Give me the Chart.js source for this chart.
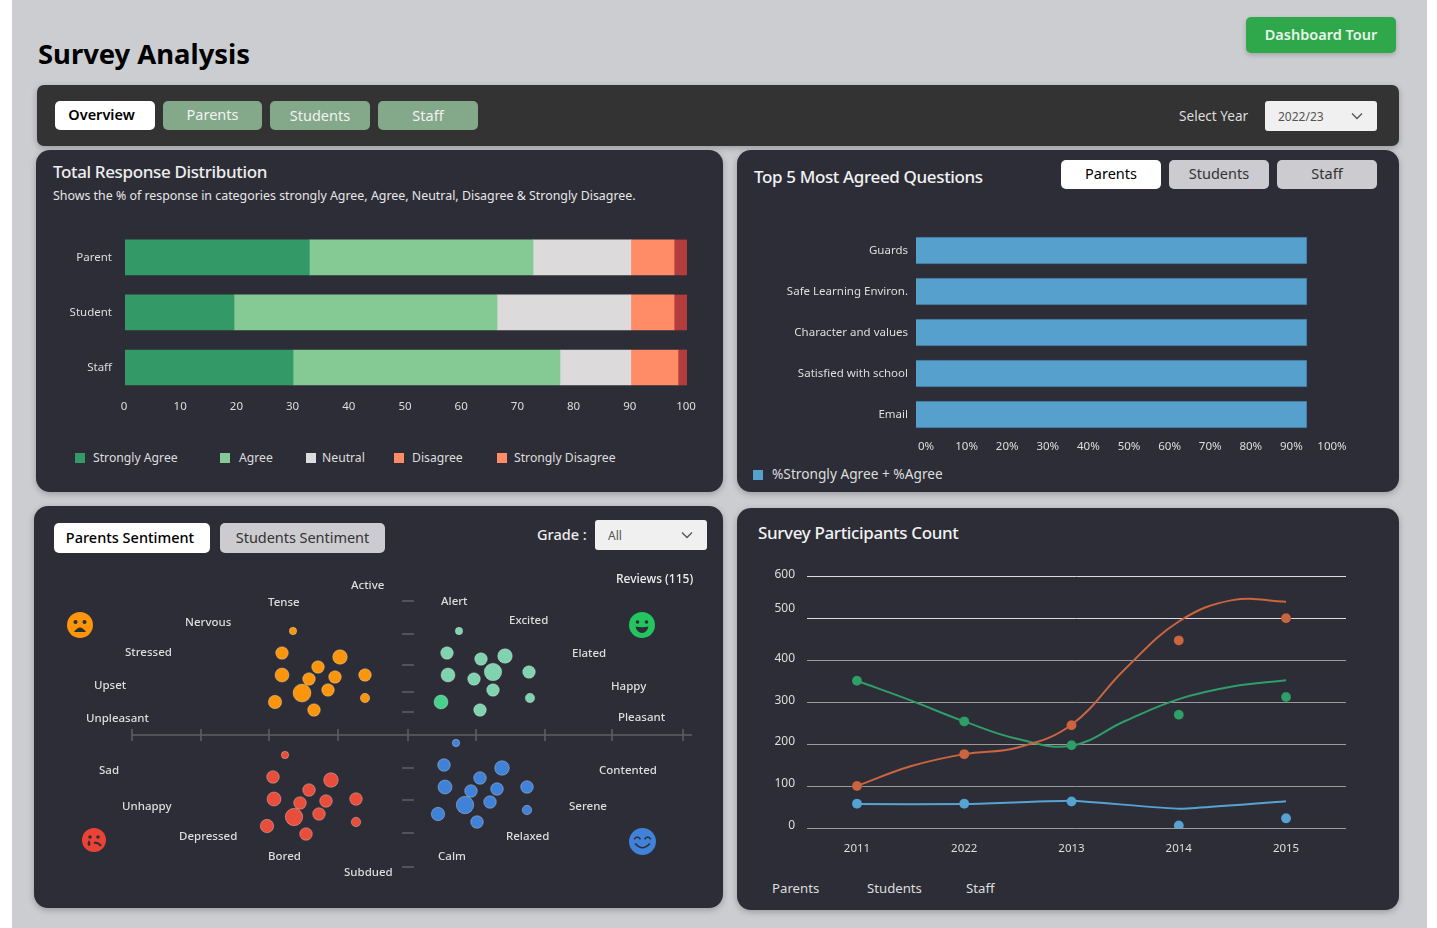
<!DOCTYPE html>
<html>
<head>
<meta charset="utf-8">
<title>Survey Analysis</title>
<script src="https://cdn.jsdelivr.net/npm/chart.js"></script>
<style>
  html, body { margin: 0; padding: 0; background: #fff; overflow: hidden; }
  body { width: 1437px; height: 928px; position: relative; font-family: "Noto Sans", sans-serif; }
  .page { position: absolute; left: 12px; top: 0; width: 1415px; height: 928px; background: #cccdd1; }
  .panel { position: absolute; background: #2d2d37; border-radius: 14px; box-shadow: 0 2px 6px rgba(0,0,0,.25); }
  .txt { position: absolute; transform: translateY(-50%); white-space: nowrap; color: #e6e6e6; }
  .btn { position: absolute; display: flex; align-items: center; justify-content: center; border-radius: 5px; font-size: 14.5px; box-sizing: border-box; padding-bottom: 3px; }
  .white { background: #fff; color: #000; }
  .sage { background: #84a88a; color: #f2f2f2; }
  .grey { background: #ccccd0; color: #333; }
  .select { position: absolute; background: #f0f0f0; border-radius: 3px; color: #555; font-size: 12px; display: flex; align-items: center; box-sizing: border-box; padding-left: 13px; }
  .select svg { position: absolute; right: 14px; top: 50%; margin-top: -4px; }
  canvas { position: absolute; }
  .swatch { position: absolute; width: 10px; height: 10px; }
  .senti { font-size: 11.5px; font-weight: 500; color: #dedede; margin-top: -1px; }
  .face { position: absolute; }
  .head { font-size: 17px; font-weight: 500; letter-spacing: -0.36px; color: #f2f2f2; }
</style>
</head>
<body>
<div class="page"></div>

<div class="txt" style="left:38px;top:53px;font-size:27.4px;font-weight:700;color:#000">Survey Analysis</div>
<div class="btn" style="left:1246px;top:17px;width:150px;height:36px;background:#2ea84a;color:#e6f5e8;font-size:14.5px;font-weight:600;box-shadow:0 2px 5px rgba(0,0,0,.2)">Dashboard Tour</div>

<div class="panel" style="left:37px;top:85px;width:1362px;height:61px;background:#333;border-radius:7px"></div>
<div class="btn white" style="left:55px;top:101px;width:100px;height:29px;font-weight:600;padding-right:7px">Overview</div>
<div class="btn sage" style="left:163px;top:101px;width:99px;height:29px">Parents</div>
<div class="btn sage" style="left:270px;top:101px;width:100px;height:29px;padding-bottom:1px">Students</div>
<div class="btn sage" style="left:378px;top:101px;width:100px;height:29px;padding-bottom:1px">Staff</div>
<div class="txt" style="left:1179px;top:115px;font-size:13.6px;color:#ddd">Select Year</div>
<div class="select" style="left:1265px;top:101px;width:112px;height:30px">2022/23<svg width="12" height="8"><path d="M1 1.5 L6 6.5 L11 1.5" fill="none" stroke="#555" stroke-width="1.3"/></svg></div>

<div class="panel" style="left:36px;top:150px;width:687px;height:342px"></div>
<div class="txt head" style="left:53px;top:171px;color:#eee">Total Response Distribution</div>
<div class="txt" style="left:53px;top:195px;font-size:12.4px;color:#e6e6e6">Shows the % of response in categories strongly Agree, Agree, Neutral, Disagree &amp; Strongly Disagree.</div>
<canvas id="responseChart" width="687" height="230" style="left:36px;top:210px"></canvas>
<div id="responseLegend"></div>

<div class="panel" style="left:737px;top:150px;width:662px;height:342px"></div>
<div class="txt head" style="left:754px;top:176px">Top 5 Most Agreed Questions</div>
<div class="btn white" style="left:1061px;top:160px;width:100px;height:29px">Parents</div>
<div class="btn grey" style="left:1169px;top:160px;width:100px;height:29px">Students</div>
<div class="btn grey" style="left:1277px;top:160px;width:100px;height:29px">Staff</div>
<canvas id="agreedChart" width="662" height="245" style="left:737px;top:215px"></canvas>
<div class="swatch" style="left:753px;top:470px;background:#55a0cc"></div>
<div class="txt" style="left:772px;top:473px;font-size:13.7px;color:#ddd">%Strongly Agree + %Agree</div>

<div class="panel" style="left:34px;top:506px;width:689px;height:402px"></div>
<div class="btn white" style="left:54px;top:523px;width:156px;height:30px;font-weight:500;padding-right:4px">Parents Sentiment</div>
<div class="btn grey" style="left:220px;top:523px;width:165px;height:30px;letter-spacing:-0.05px">Students Sentiment</div>
<div class="txt" style="left:537px;top:534px;font-size:14.5px;font-weight:500;color:#eee">Grade :</div>
<div class="select" style="left:595px;top:520px;width:112px;height:30px">All<svg width="12" height="8"><path d="M1 1.5 L6 6.5 L11 1.5" fill="none" stroke="#555" stroke-width="1.3"/></svg></div>
<canvas id="sentimentChart" width="689" height="340" style="left:34px;top:560px"></canvas>
<div id="sentimentLabels"></div>

<svg class="face" style="left:67px;top:612px" width="26" height="26" viewBox="0 0 26 26"><circle cx="13" cy="13" r="13" fill="#fb950b"/><circle cx="8.5" cy="10" r="2" fill="#2d2d37"/><circle cx="17.5" cy="10" r="2" fill="#2d2d37"/><path d="M7 20 Q13 11 19 20 Z" fill="#2d2d37"/></svg>
<svg class="face" style="left:629px;top:612px" width="26" height="26" viewBox="0 0 26 26"><circle cx="13" cy="13" r="13" fill="#22c55e"/><circle cx="8.5" cy="10" r="1.8" fill="#2d2d37"/><circle cx="17.5" cy="10" r="1.8" fill="#2d2d37"/><path d="M6.5 14.5 Q13 16 19.5 14.5 Q18 21 13 21 Q8 21 6.5 14.5 Z" fill="#2d2d37"/></svg>
<svg class="face" style="left:82px;top:828px" width="24" height="24" viewBox="0 0 24 24"><circle cx="12" cy="12" r="12" fill="#ea4335"/><circle cx="8" cy="9" r="1.8" fill="#2d2d37"/><circle cx="16" cy="9" r="1.8" fill="#2d2d37"/><path d="M12 15 Q16 14 19 18" fill="none" stroke="#2d2d37" stroke-width="2"/><path d="M7 12 Q4 17 7 18 Q10 17 7 12 Z" fill="#2d2d37"/></svg>
<svg class="face" style="left:629px;top:828px" width="27" height="27" viewBox="0 0 26 26"><circle cx="13" cy="13" r="13" fill="#3f82d8"/><path d="M5 11 Q8 6.5 11 11 M15 11 Q18 6.5 21 11" fill="none" stroke="#2d2d37" stroke-width="1.5"/><path d="M6 15 Q13 23 20 15" fill="none" stroke="#2d2d37" stroke-width="1.6"/></svg>

<div class="panel" style="left:737px;top:508px;width:662px;height:402px"></div>
<div class="txt head" style="left:758px;top:532px">Survey Participants Count</div>
<canvas id="countChart" width="662" height="313" style="left:737px;top:557px"></canvas>
<div class="txt" style="left:772px;top:888px;font-size:13.2px;color:#ddd">Parents</div>
<div class="txt" style="left:867px;top:888px;font-size:13.2px;color:#ddd">Students</div>
<div class="txt" style="left:966px;top:888px;font-size:13.2px;color:#ddd">Staff</div>

<script>
// total response distribution
const responseGroups = ['Parent', 'Student', 'Staff'];
const stronglyAgree = [32.8, 19.4, 29.9];
const agree = [39.8, 46.8, 47.5];
const neutral = [17.4, 23.8, 12.6];
const disagree = [7.7, 7.7, 8.4];
const stronglyDisagree = [2.3, 2.3, 1.6];

// top 5 questions
const questions = ['Guards', 'Safe Learning Environ.', 'Character and values', 'Satisfied with school', 'Email'];
const agreedPercent = [96.3, 96.3, 96.3, 96.3, 96.3];

// sentiment bubbles
const tenseX = [-115, -126, -68, -90, -126, -99, -73, -43, -106, -80, -43, -133, -94];
const tenseY = [104, 82, 78, 68, 60, 56, 58, 60, 42, 45, 37, 33, 25];
const tenseR = [3.7, 6.3, 7.3, 6.3, 7, 6.3, 6.3, 6.3, 9, 6.3, 4.7, 6.7, 6.3];
const excitedX = [51, 39, 97, 73, 40, 85, 66, 121, 85, 122, 33, 72];
const excitedY = [104, 82, 79, 76, 60, 63, 56, 63, 45, 37, 33, 25];
const excitedR = [3.7, 6.3, 7.3, 6.3, 7, 8.7, 6.3, 6.3, 6.3, 4.7, 7, 6.3];
const sadX = [-123, -135, -77, -99, -134, -108, -82, -52, -114, -89, -52, -141, -102];
const sadY = [-20, -42, -45, -55, -64, -68, -66, -64, -82, -79, -87, -91, -99];
const sadR = [3.7, 6.3, 7.3, 6.3, 7, 6.3, 6.3, 6.3, 8.7, 6.3, 4.7, 6.7, 6.3];
const calmX = [48, 36, 94, 72, 37, 63, 89, 119, 57, 82, 119, 30, 69];
const calmY = [-8, -30, -33, -43, -52, -56, -54, -52, -70, -67, -75, -79, -87];
const calmR = [3.7, 6.3, 7.3, 6.3, 7, 6.3, 6.3, 6.3, 8.7, 6.3, 4.7, 6.7, 6.3];
const sentimentXTicks = [-276, -207, -139, -70, 0, 68, 137, 204, 275];
const sentimentYTicks = [134, 101, 70, 43, 23, -33, -65, -98, -132];
const sentimentWords = ['Active', 'Reviews (115)', 'Tense', 'Alert', 'Nervous', 'Excited', 'Stressed', 'Elated', 'Upset', 'Happy', 'Unpleasant', 'Pleasant', 'Sad', 'Contented', 'Unhappy', 'Serene', 'Depressed', 'Relaxed', 'Bored', 'Calm', 'Subdued'];

// participants count
const years = ['2011', '2022', '2013', '2014', '2015'];
const parentsPoints = [100, 176, 245, 447, 500];
const studentsPoints = [351, 254, 197, 270, 312];
const staffPoints = [58, 58, 63, 6, 23];
const curveSteps = [0, 0.5, 1, 1.5, 2, 2.5, 3, 3.5, 4];
const parentsCurve = [100, 147, 176, 192, 246, 379, 492, 543, 539];
const studentsCurve = [351, 304, 254, 212, 196, 255, 307, 337, 352];
const staffSteps = [0, 1, 2, 3, 4];
const staffCurve = [57, 57, 65, 46, 64];

Chart.defaults.font.family = '"Noto Sans", sans-serif';
Chart.defaults.color = '#dedede';
Chart.defaults.animation = false;
Chart.defaults.responsive = false;
Chart.defaults.plugins.legend.display = false;
Chart.defaults.plugins.tooltip.enabled = false;

// legend of the first chart, the last box really is orange in the design
const legendNames = ['Strongly Agree', 'Agree', 'Neutral', 'Disagree', 'Strongly Disagree'];
const legendColors = ['#339966', '#85ca94', '#dcdcdc', '#ff8c66', '#ff8c66'];
const legendBoxLeft = [75, 220, 306, 394, 497];
const legendTextLeft = [93, 239, 322, 412, 514];
legendNames.forEach((name, i) => {
  document.getElementById('responseLegend').innerHTML +=
    `<div class="swatch" style="left:${legendBoxLeft[i]}px;top:453px;background:${legendColors[i]}"></div>` +
    `<div class="txt" style="left:${legendTextLeft[i]}px;top:457px;font-size:12.2px;color:#ddd">${name}</div>`;
});

// sentiment words, same order as sentimentWords
const wordLeft = [351, 616, 268, 441, 185, 509, 125, 572, 94, 611, 86, 618, 99, 599, 122, 569, 179, 506, 268, 438, 344];
const wordTop = [585, 579, 602, 601, 622, 620, 652, 653, 685, 686, 718, 717, 770, 770, 806, 806, 836, 836, 856, 856, 872];
sentimentWords.forEach((word, i) => {
  const big = word.startsWith('Reviews') ? ';font-size:12px;color:#eee' : '';
  document.getElementById('sentimentLabels').innerHTML +=
    `<div class="txt senti" style="left:${wordLeft[i]}px;top:${wordTop[i]}px${big}">${word}</div>`;
});

new Chart(document.getElementById('responseChart'), {
  type: 'bar',
  data: {
    labels: responseGroups,
    datasets: [
      { label: 'Strongly Agree', data: stronglyAgree, backgroundColor: '#339966' },
      { label: 'Agree', data: agree, backgroundColor: '#85ca94' },
      { label: 'Neutral', data: neutral, backgroundColor: '#dcdada' },
      { label: 'Disagree', data: disagree, backgroundColor: '#ff8c66' },
      { label: 'Strongly Disagree', data: stronglyDisagree, backgroundColor: '#b33c3c' }
    ]
  },
  options: {
    indexAxis: 'y',
    barThickness: 35,
    layout: { padding: { top: 15, right: 36 }, autoPadding: false },
    scales: {
      x: {
        stacked: true, min: 0, max: 100,
        grid: { display: false, drawTicks: false }, border: { display: false },
        ticks: { stepSize: 10, maxRotation: 0, padding: 5, labelOffset: -1, font: { size: 11.5 } },
        afterFit: s => { s.height = 45; }
      },
      y: {
        stacked: true,
        grid: { display: false, drawTicks: false }, border: { display: false },
        ticks: { padding: 13, font: { size: 11.5 } },
        afterFit: s => { s.width = 89; }
      }
    }
  }
});

new Chart(document.getElementById('agreedChart'), {
  type: 'bar',
  data: {
    labels: questions,
    datasets: [{ label: '%Strongly Agree + %Agree', data: agreedPercent, backgroundColor: '#55a0cc', borderColor: '#3f6f90', borderWidth: 1 }]
  },
  options: {
    indexAxis: 'y',
    barThickness: 27,
    layout: { padding: { top: 15, right: 77 }, autoPadding: false },
    scales: {
      x: {
        min: 0, max: 100,
        grid: { display: false, drawTicks: false }, border: { display: false },
        ticks: { stepSize: 10, maxRotation: 0, padding: 5, labelOffset: 10, font: { size: 11.5 }, callback: v => v + '%' },
        afterFit: s => { s.height = 25; }
      },
      y: {
        grid: { display: false, drawTicks: false }, border: { display: false },
        ticks: { padding: 8, font: { size: 11.5 } },
        afterFit: s => { s.width = 179; }
      }
    }
  }
});

const zipBubbles = (xs, ys, rs) => xs.map((x, i) => ({ x, y: ys[i], r: rs[i] }));

// draws the cross shaped axis of the sentiment chart from its scales
const crossAxis = {
  id: 'crossAxis',
  beforeDatasetsDraw(chart) {
    const { ctx, chartArea, scales: { x, y } } = chart;
    const cx = x.getPixelForValue(0), cy = y.getPixelForValue(0);
    ctx.save();
    ctx.strokeStyle = '#5f5f68';
    ctx.lineWidth = 1.5;
    ctx.beginPath();
    ctx.moveTo(chartArea.left + 8, cy);
    ctx.lineTo(chartArea.right, cy);
    sentimentXTicks.forEach(v => {
      const px = x.getPixelForValue(v);
      ctx.moveTo(px, cy - 6);
      ctx.lineTo(px, cy + 6);
    });
    sentimentYTicks.forEach(v => {
      const py = y.getPixelForValue(v);
      ctx.moveTo(cx - 6, py);
      ctx.lineTo(cx + 6, py);
    });
    ctx.stroke();
    ctx.restore();
  }
};

const rim = 'rgba(255,255,255,.3)';
new Chart(document.getElementById('sentimentChart'), {
  type: 'bubble',
  data: {
    datasets: [
      { label: 'Tense', data: zipBubbles(tenseX, tenseY, tenseR), backgroundColor: '#fb950b', borderColor: rim, borderWidth: 1 },
      { label: 'Excited', data: zipBubbles(excitedX, excitedY, excitedR), backgroundColor: excitedX.map((v, i) => i === 10 ? '#47d18c' : '#7fd3ae'), borderColor: rim, borderWidth: 1 },
      { label: 'Sad', data: zipBubbles(sadX, sadY, sadR), backgroundColor: '#e94e3d', borderColor: rim, borderWidth: 1 },
      { label: 'Calm', data: zipBubbles(calmX, calmY, calmR), backgroundColor: '#3f82d8', borderColor: rim, borderWidth: 1 }
    ]
  },
  options: {
    layout: { padding: { left: 90, right: 31, top: 25, bottom: 15 }, autoPadding: false },
    scales: {
      x: { display: false, min: -284, max: 284 },
      y: { display: false, min: -150, max: 150 }
    }
  },
  plugins: [crossAxis]
});

const curve = (xs, ys) => xs.map((x, i) => ({ x, y: ys[i] }));
const lineSet = (label, xs, ys, color, tension) => ({
  type: 'line', label, data: curve(xs, ys), borderColor: color, borderWidth: 2, pointRadius: 0, tension
});
const pointSet = (label, ys, color) => ({
  type: 'scatter', label, data: curve(staffSteps, ys), backgroundColor: color, pointRadius: 5, showLine: false
});

new Chart(document.getElementById('countChart'), {
  data: {
    datasets: [
      lineSet('Parents', curveSteps, parentsCurve, '#c9653f', 0.4),
      lineSet('Students', curveSteps, studentsCurve, '#2f9e68', 0.4),
      lineSet('Staff', staffSteps, staffCurve, '#56a3d3', 0.1),
      pointSet('Parents', parentsPoints, '#c9653f'),
      pointSet('Students', studentsPoints, '#2f9e68'),
      pointSet('Staff', staffPoints, '#56a3d3')
    ]
  },
  options: {
    layout: { padding: { top: 14, right: 53 }, autoPadding: false },
    scales: {
      x: {
        type: 'linear', min: -0.466, max: 4.559,
        grid: { display: false, drawTicks: false }, border: { display: false },
        ticks: { stepSize: 1, includeBounds: false, maxRotation: 0, padding: 14, font: { size: 11.5 }, callback: v => years[v] },
        afterFit: s => { s.height = 42; }
      },
      y: {
        min: 0, max: 600,
        grid: { color: c => c.tick.value >= 500 ? '#dddddd' : '#9a9a9a', drawTicks: false },
        border: { display: false },
        ticks: { stepSize: 100, padding: 12, labelOffset: -2, font: { size: 12 }, callback: v => v === 500 ? ['500', ''] : v },
        afterFit: s => { s.width = 70; }
      }
    }
  }
});
</script>
</body>
</html>
